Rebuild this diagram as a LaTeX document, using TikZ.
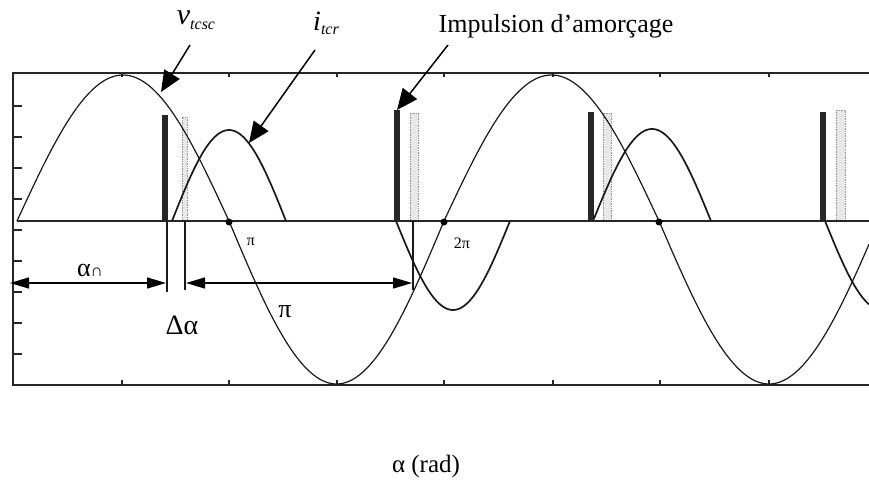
\documentclass[tikz,border=0pt]{standalone}
\usepackage{fontspec}
\setmainfont{Liberation Serif}
\usetikzlibrary{arrows.meta}
\begin{document}
\begin{tikzpicture}[x=1pt,y=-1pt,
  frame/.style={line width=1.8pt, draw=black!85},
  tickm/.style={line width=1.3pt, draw=black!85},
  volt/.style={line width=1.2pt, draw=black!90},
  cur/.style={line width=1.7pt, draw=black!90},
  blackpulse/.style={fill=black!85, draw=none},
  graypulse/.style={draw=gray!85, densely dotted, fill=gray!18, line width=0.7pt},
  guide/.style={line width=1.5pt, draw=black!90},
  dimline/.style={line width=1.3pt, {Triangle[length=19pt,width=11pt]}-{Triangle[length=19pt,width=11pt]}},
  callout/.style={line width=1.5pt, -{Triangle[length=21pt,width=18pt]}},
  lbl/.style={inner sep=0pt, font=\fontsize{26}{30}\selectfont},
  small/.style={inner sep=0pt, font=\fontsize{16}{18}\selectfont},
  dotm/.style={circle, fill=black, inner sep=0pt, minimum size=7pt}
]
\useasboundingbox (0,0) rectangle (869,479);
\fill[white] (0,0) rectangle (869,479);
\begin{scope}
\clip (0,0) rectangle (869,479);
% frame
\draw[frame] (869,73) -- (13,73) -- (13,385) -- (869,385);
\foreach \yy in {106,137,168,199,230,261,292,323,354}
  \draw[tickm] (13,\yy) -- (22,\yy);
\foreach \xx in {122,229,337,444,553,660,769} {
  \draw[tickm] (\xx,73) -- (\xx,77);
  \draw[tickm] (\xx,385) -- (\xx,380);
}
% gray pulses
\draw[graypulse] (182,221) rectangle (187,117);
\draw[graypulse] (410,221) rectangle (418,113);
\draw[graypulse] (603,221) rectangle (611,113);
\draw[graypulse] (836,221) rectangle (845,110);
% zero axis
\draw[line width=2.2pt, draw=black!85] (17,221) -- (869,221);
% voltage
\draw[volt] plot[domain=17:229, samples=80, smooth] (\x, {221-146*sin(((\x-17)/212)*180)});
\draw[volt] plot[domain=229:444, samples=80, smooth] (\x, {221+163*sin(((\x-229)/215)*180)});
\draw[volt] plot[domain=444:659, samples=80, smooth] (\x, {221-146*sin(((\x-444)/215)*180)});
\draw[volt] plot[domain=659:869, samples=80, smooth] (\x, {221+163*sin(((\x-659)/220)*180)});
% current
\draw[cur] plot[domain=172:286, samples=60, smooth] (\x, {221-91*sin(((\x-172)/114)*180)});
\draw[cur] plot[domain=396:510, samples=60, smooth] (\x, {221+89*sin(((\x-396)/114)*180)});
\draw[cur] plot[domain=593:711, samples=60, smooth] (\x, {221-92*sin(((\x-593)/118)*180)});
\draw[cur] plot[domain=825:869, samples=30, smooth] (\x, {221+89*sin(((\x-825)/114)*180)});
% black pulses
\fill[blackpulse] (162,221) rectangle (168,115);
\fill[blackpulse] (394,221) rectangle (400,110);
\fill[blackpulse] (588,221) rectangle (594,112);
\fill[blackpulse] (820,221) rectangle (826,112);
% dots
\node[dotm] (d1) at (229,222) {};
\node[dotm] (d2) at (444,222) {};
\node[dotm] (d3) at (659,222) {};
% guide lines below axis
\coordinate (g1t) at (167,221); \coordinate (g1b) at (167,292);
\coordinate (g2t) at (185,221); \coordinate (g2b) at (185,290);
\coordinate (g3t) at (413,221); \coordinate (g3b) at (413,290);
\draw[guide] (g1t) -- (g1b);
\draw[guide] (g2t) -- (g2b);
\draw[guide] (g3t) -- (g3b);
% dimension arrows
\coordinate (a0l) at (10,283); \coordinate (a0r) at (166,283);
\coordinate (pil) at (186,283); \coordinate (pir) at (412,283);
\draw[dimline] (a0l) -- (a0r);
\draw[dimline] (pil) -- (pir);
\end{scope}
% labels
\node[lbl] (a0) at (90,270) {α\fontsize{17}{17}\selectfont ∩};
\node[inner sep=0pt, font=\fontsize{28}{30}\selectfont] (da) at (182,325) {Δα};
\node[lbl] (pibig) at (285,312) {π};
\node[small] (pismall) at (251,242) {π};
\node[small] (twopi) at (462,243) {2π};
\node[inner sep=0pt, font=\fontsize{25}{28}\selectfont] (axlabel) at (426,466) {α (rad)};
\node[inner sep=0pt, font=\fontsize{30}{32}\selectfont, anchor=base] (vlabel) at (196,24) {\itshape v\raisebox{-5pt}{\fontsize{16}{16}\selectfont tcsc}};
\node[inner sep=0pt, font=\fontsize{28}{32}\selectfont, anchor=base] (ilabel) at (326,30) {\itshape i\raisebox{-5pt}{\fontsize{16}{16}\selectfont tcr}};
\node[lbl, anchor=base] (implabel) at (556,32) {Impulsion d’amorçage};
% callouts
\coordinate (vs) at (190,45); \coordinate (vt) at (161,92);
\coordinate (is) at (315,50); \coordinate (it) at (249,143);
\coordinate (ps) at (448,45); \coordinate (pt) at (397,110);
\draw[callout] (vs) -- (vt);
\draw[callout] (is) -- (it);
\draw[callout] (ps) -- (pt);
\end{tikzpicture}
\end{document}
